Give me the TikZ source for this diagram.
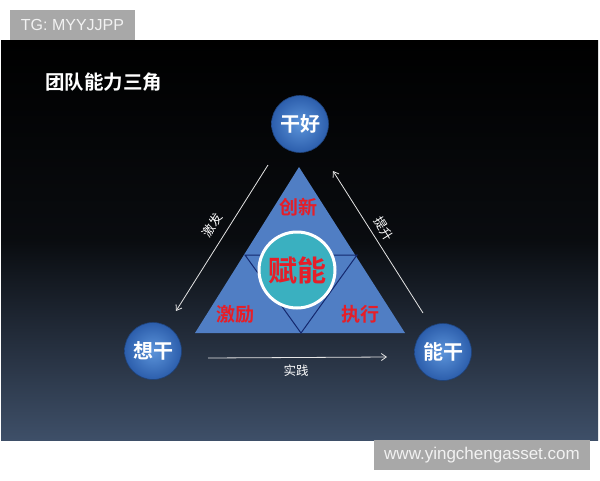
\documentclass[tikz,border=0pt]{standalone}
\usepackage{fontspec}
\setmainfont{Liberation Sans}
\newfontfamily\cjk{Noto Sans CJK SC}
\newfontfamily\cjkbold{Noto Sans CJK SC Bold}
\usetikzlibrary{arrows.meta,positioning}

\definecolor{panelbottom}{RGB}{62,79,104}
\definecolor{ballblue}{RGB}{44,94,172}
\definecolor{balllight}{RGB}{92,148,218}
\definecolor{trifill}{RGB}{80,126,196}
\definecolor{trinavy}{RGB}{20,40,110}
\definecolor{hubteal}{RGB}{58,176,192}
\definecolor{wordred}{RGB}{230,30,40}
\definecolor{markgray}{RGB}{168,168,168}

\tikzset{
    ball/.style={circle,minimum size=57pt,inner sep=0pt,draw=ballblue!70!black,line width=0.6pt,
        shading=radial,inner color=balllight,outer color=ballblue,
        text=white,font=\cjkbold\fontsize{20}{20}\selectfont},
    redword/.style={text=wordred,font=\cjkbold\fontsize{19}{19}\selectfont},
    flow/.style={draw=white!90!black,line width=0.8pt,-{Straight Barb[length=5pt,width=7pt]}},
    flowlabel/.style={text=white,font=\cjk\fontsize{12.5}{12.5}\selectfont,inner sep=1pt},
    watermark/.style={fill=markgray,text=white!95!black,inner sep=0pt}
}

\begin{document}
\begin{tikzpicture}[x=1pt,y=-1pt]
    \useasboundingbox[fill=white](0,0) rectangle (600,480);

    % dark panel
    \shade[top color=black,bottom color=panelbottom,middle color=black!85!panelbottom]
        (1,40) rectangle (598,440);

    % watermarks
    \node[watermark,minimum width=125pt,minimum height=30pt,font=\fontsize{16}{16}\selectfont]
        (tg) at (72.5,25) {TG: MYYJJPP};
    \node[watermark,minimum width=216pt,minimum height=30pt,font=\fontsize{17}{17}\selectfont]
        (site) at (482,455) {www.yingchengasset.com};

    % title
    \node[text=white,font=\cjkbold\fontsize{19.5}{19.5}\selectfont,anchor=west,inner sep=0pt]
        (title) at (45,82) {团队能力三角};

    % triangles
    \coordinate (apex) at (299,167);
    \coordinate (baseL) at (195,333);
    \coordinate (baseR) at (405,333);
    \fill[trifill] (apex)--(baseL)--(baseR)--cycle;
    \draw[trinavy,line width=1pt](245,255)--(357,255)--(301,333)--cycle;

    % hub circle
    \node[circle,minimum size=76pt,inner sep=0pt,fill=hubteal,draw=white,line width=3pt,
        text=wordred,font=\cjkbold\fontsize{29}{29}\selectfont] (hub) at (297,270) {赋能};

    \node[redword] (innov) at (298,207) {创新};
    \node[redword] (spur) at (235,314) {激励};
    \node[redword] (exec) at (360,314) {执行};

    % balls
    \node[ball] (good) at (300,124) {干好};
    \node[ball] (want) at (153,351) {想干};
    \node[ball] (able) at (443,352) {能干};

    % arrows
    \coordinate (a1) at (268,165);
    \coordinate (a2) at (176,311);
    \coordinate (b1) at (423,313);
    \coordinate (b2) at (333,171);
    \coordinate (c1) at (208,358);
    \coordinate (c2) at (387,357);
    \draw[flow](a1)--(a2);
    \draw[flow](b1)--(b2);
    \draw[flow](c1)--(c2);

    \node[flowlabel,rotate=58] (l1) at (212,225) {激发};
    \node[flowlabel,rotate=-58] (l2) at (384,229) {提升};
    \node[flowlabel] (l3) at (296,371) {实践};
\end{tikzpicture}
\end{document}
